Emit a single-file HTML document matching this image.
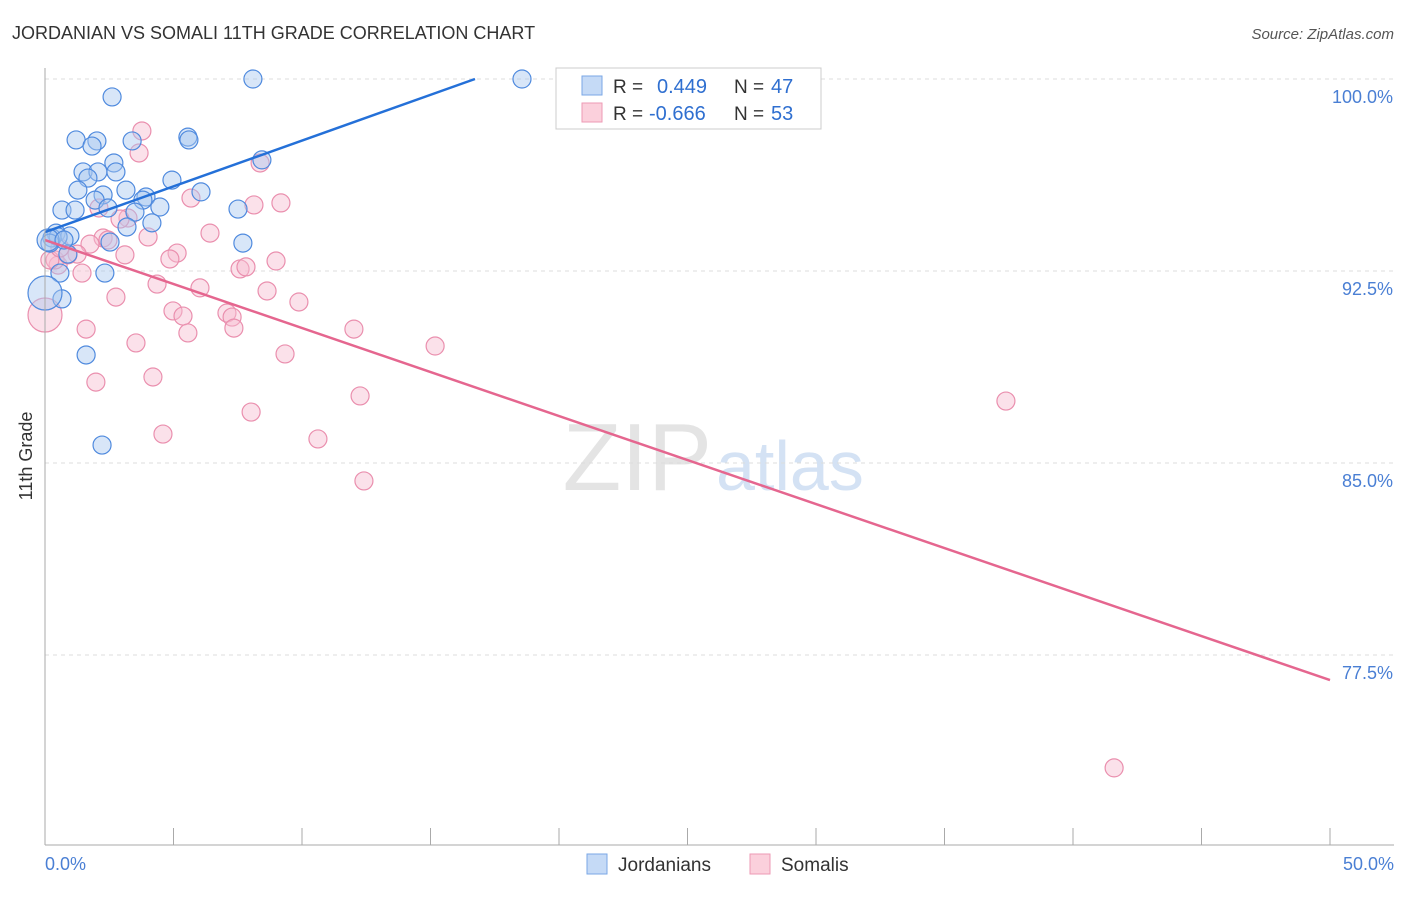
<!DOCTYPE html>
<html><head><meta charset="utf-8"><style>
body{margin:0;background:#fff;font-family:"Liberation Sans",sans-serif;}
svg text{font-family:"Liberation Sans",sans-serif;}
</style></head><body>
<svg id="chart" width="1406" height="892">
<text x="12" y="39" font-size="18" fill="#333">JORDANIAN VS SOMALI 11TH GRADE CORRELATION CHART</text>
<text x="1394" y="39" font-size="15" fill="#555" text-anchor="end" font-style="italic">Source: ZipAtlas.com</text>
<text x="712" y="490" font-size="96" fill="#e4e4e4" text-anchor="end" font-family="Liberation Serif">ZIP</text>
<text x="716" y="490" font-size="70" fill="#d4e2f4">atlas</text>
<g id="grid"></g>
<g id="marks"></g>
<line x1="45" y1="68" x2="45" y2="845" stroke="#aaa"/>
<line x1="45" y1="845" x2="1394" y2="845" stroke="#aaa"/>
<text x="32" y="456" font-size="18" fill="#333" text-anchor="middle" transform="rotate(-90 32 456)">11th Grade</text>
<text x="45" y="870" font-size="18" fill="#4a7fd4">0.0%</text>
<text x="1394" y="870" font-size="18" fill="#4a7fd4" text-anchor="end">50.0%</text>
<g>
<rect x="556" y="68" width="265" height="61" fill="#fff" stroke="#ccc"/>
<rect x="582" y="76" width="20" height="19" fill="#c5daf6" stroke="#7aa7e6"/>
<rect x="582" y="103" width="20" height="19" fill="#fbd0dc" stroke="#ee9ab4"/>
<text x="613" y="93" font-size="19" fill="#333">R =</text>
<text x="657" y="93" font-size="20" fill="#2f6fd0">0.449</text>
<text x="734" y="93" font-size="19" fill="#333">N =</text>
<text x="771" y="93" font-size="20" fill="#2f6fd0">47</text>
<text x="613" y="120" font-size="19" fill="#333">R =</text>
<text x="649" y="120" font-size="20" fill="#2f6fd0">-0.666</text>
<text x="734" y="120" font-size="19" fill="#333">N =</text>
<text x="771" y="120" font-size="20" fill="#2f6fd0">53</text>
</g>
<g><rect x="587" y="854" width="20" height="20" fill="#c5daf6" stroke="#7aa7e6"/><text x="618" y="871" font-size="19" fill="#333">Jordanians</text></g>
<g><rect x="750" y="854" width="20" height="20" fill="#fbd0dc" stroke="#ee9ab4"/><text x="781" y="871" font-size="19" fill="#333">Somalis</text></g>
</svg>
<script>
const yTicks=[100,92.5,85,77.5];
const yTickLabels=["100.0%","92.5%","85.0%","77.5%"];
const xTicks=[0,5,10,15,20,25,30,35,40,45,50];
const blueX=[8.09,18.56,2.61,1.21,2.02,3.39,5.56,5.60,1.83,2.68,8.44,1.48,2.06,2.76,1.67,4.94,1.28,3.15,2.26,6.07,3.93,3.81,1.95,4.47,0.66,1.17,2.45,3.50,7.51,4.16,3.19,0.43,0.97,0.27,0.51,0.19,7.70,2.53,0.89,2.33,0.58,0.66,1.60,2.22,0,0.12,0.74];
const blueY=[100,100,99.30,97.62,97.58,97.58,97.73,97.62,97.38,96.72,96.84,96.37,96.37,96.37,96.13,96.05,95.66,95.66,95.47,95.59,95.39,95.27,95.27,95.0,94.88,94.88,94.96,94.80,94.92,94.38,94.22,93.98,93.87,93.79,93.83,93.59,93.59,93.63,93.16,92.42,92.42,91.41,89.22,85.70,91.64,93.71,93.71];
const blueR=[9,9,9,9,9,9,9,9,9,9,9,9,9,9,9,9,9,9,9,9,9,9,9,9,9,9,9,9,9,9,9,9,9,9,9,9,9,9,9,9,9,9,9,9,17,11,9];
const pinkX=[3.77,3.66,8.37,5.68,8.13,9.18,2.10,3.23,2.92,6.42,4.01,2.26,2.45,1.75,1.25,3.11,5.14,4.86,8.99,7.59,7.82,0.51,1.44,4.36,6.03,8.64,2.76,9.88,4.98,5.37,7.08,7.28,1.60,12.02,5.56,7.35,3.54,15.18,9.34,1.98,4.20,12.26,37.39,8.02,4.59,10.62,12.41,41.60,0,0.39,0.89,0.19,0.58];
const pinkY=[97.97,97.11,96.72,95.35,95.08,95.16,94.96,94.57,94.53,93.98,93.83,93.79,93.71,93.55,93.16,93.13,93.20,92.97,92.89,92.58,92.66,92.73,92.42,91.99,91.84,91.72,91.48,91.29,90.94,90.74,90.86,90.70,90.23,90.23,90.08,90.27,89.69,89.57,89.26,88.16,88.36,87.62,87.42,86.99,86.13,85.94,84.30,73.09,90.78,92.93,93.13,92.93,93.40];
const pinkR=pinkX.map((v,i)=>i===48?17:9);
const blueTrend=[[0,94.02],[16.73,100]];
const pinkTrend=[[0,93.71],[50,76.52]];
const X=v=>45+v*25.7, Y=v=>79+(100-v)*25.6;
const NS="http://www.w3.org/2000/svg";
const grid=document.getElementById('grid'), marks=document.getElementById('marks');
function mk(tag,attrs,parent){const e=document.createElementNS(NS,tag);for(const k in attrs)e.setAttribute(k,attrs[k]);parent.appendChild(e);return e;}
yTicks.forEach((t,i)=>{
 const l=mk('line',{x1:45,x2:1394,y1:Y(t),y2:Y(t),stroke:'#ddd','stroke-dasharray':'4 4'},grid);
 
 
 const tx=mk('text',{x:1393,y:Y(t)+24,'font-size':18,fill:'#4a7fd4','text-anchor':'end'},grid);
 tx.textContent=yTickLabels[i];
 
 
});
xTicks.forEach(t=>{
 const l=mk('line',{x1:X(t),x2:X(t),y1:828,y2:845,stroke:'#aaa'},grid);
 
 
});
function pts(xs,ys,rs,fill,stroke,name){
 xs.forEach((x,i)=>{
  const c=mk('circle',{cx:X(x),cy:Y(ys[i]),r:rs[i],fill:fill,'fill-opacity':0.45,stroke:stroke,'stroke-width':1.2},marks);
  
  
 });
}
pts(pinkX,pinkY,pinkR,'#f7bcd0','#ea8fae','somali-point');
pts(blueX,blueY,blueR,'#a9c8f0','#4f8ade','jordanian-point');
const bl=mk('line',{x1:X(blueTrend[0][0]),y1:Y(blueTrend[0][1]),x2:X(blueTrend[1][0]),y2:Y(blueTrend[1][1]),stroke:'#2470d8','stroke-width':2.5},marks);


const pl=mk('line',{x1:X(pinkTrend[0][0]),y1:Y(pinkTrend[0][1]),x2:X(pinkTrend[1][0]),y2:Y(pinkTrend[1][1]),stroke:'#e5668f','stroke-width':2.5},marks);


</script>
</body></html>
